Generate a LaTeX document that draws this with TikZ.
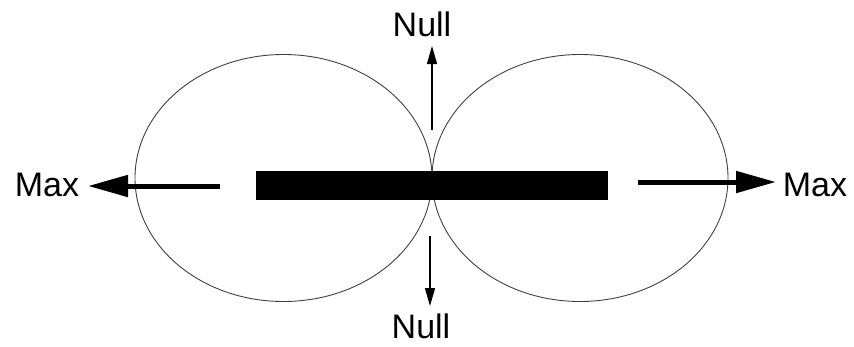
\documentclass[tikz,border=0pt]{standalone}
\usepackage{fontspec}
\setmainfont{Liberation Sans}
\usetikzlibrary{arrows.meta}
\begin{document}
\begin{tikzpicture}[x=1pt,y=-1pt,
  lobe/.style={draw=black!75,line width=0.9pt},
  bigarrow/.style={line width=5pt,-{Triangle[length=40pt,width=21pt]}},
  smallarrow/.style={line width=1.4pt,-{Triangle[length=18pt,width=10pt]}},
  lbl/.style={font=\fontsize{34}{36}\selectfont,inner sep=0pt}]
\useasboundingbox (0,0) rectangle (854,346);
\draw[lobe] (283.5,178) ellipse [x radius=148.5, y radius=123.5];
\draw[lobe] (580,178) ellipse [x radius=148, y radius=123.5];
\node[fill=black,minimum width=352pt,minimum height=29pt,inner sep=0pt] (bar) at (432,185.5) {};
\node[lbl] (maxl) at (47,185) {Max};
\node[lbl] (maxr) at (815,184.5) {Max};
\node[lbl] (nullt) at (422,24) {Null};
\node[lbl] (nullb) at (421,326) {Null};
\coordinate (ls) at (220,186);
\coordinate (lt) at (88,186);
\coordinate (rs) at (638,182);
\coordinate (rt) at (776,182);
\coordinate (ts) at (432,130);
\coordinate (tt) at (432,46);
\coordinate (bs) at (430,236);
\coordinate (bt) at (430,306);
\draw[bigarrow] (ls) -- (lt);
\draw[bigarrow] (rs) -- (rt);
\draw[smallarrow] (ts) -- (tt);
\draw[smallarrow] (bs) -- (bt);
\end{tikzpicture}
\end{document}
